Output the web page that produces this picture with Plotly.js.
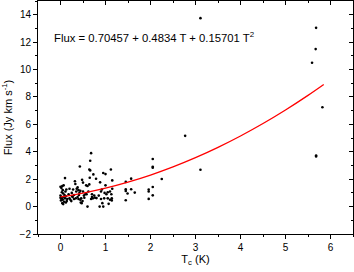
<!DOCTYPE html>
<html>
<head>
<meta charset="utf-8">
<script src="https://cdn.plot.ly/plotly-3.0.1.min.js"></script>
<style>html,body{margin:0;padding:0;background:#fff}#chart{width:354px;height:272px}</style>
</head>
<body>
<div id="chart"></div>
<script>
// Observed points: T_c (K) and Flux (Jy km s^-1)
const tValues = [
  0.00,0.02,0.04,0.07,0.10,0.00,0.02,0.03,0.05,0.01,0.04,0.06,0.08,0.10,0.12,0.09,0.06,0.11,0.13,0.03,0.15,0.14,0.00,0.07,0.05,0.12,
  0.18,0.20,0.22,0.25,0.27,0.30,0.32,0.33,0.28,0.24,0.30,0.35,0.20,0.34,0.26,
  0.38,0.40,0.42,0.43,0.44,0.45,0.47,0.48,0.50,0.52,0.40,0.46,0.38,0.50,0.53,0.41,0.49,0.55,0.36,0.44,
  0.57,0.60,0.60,0.64,0.64,0.66,0.66,0.68,0.65,0.62,0.70,0.72,0.75,0.73,0.79,0.77,0.70,0.68,0.80,0.58,
  0.85,0.87,0.88,0.90,0.92,0.93,0.95,0.95,1.00,0.97,1.00,1.02,1.05,1.07,1.10,1.12,1.13,1.14,1.15,1.15,1.14,0.90,1.05,0.98,1.10,
  1.45,1.45,1.45,1.45,1.49,1.57,1.57,1.65,1.96,1.96,1.96,2.05,2.05,2.05,2.05,2.05,2.25,2.77,3.11,3.11,5.59,5.67,5.68,5.68,5.68,5.82
];
const fluxValues = [
  1.45,1.35,1.50,1.55,2.08,0.80,0.70,0.60,0.50,0.45,0.25,0.18,0.35,0.60,0.75,0.85,0.95,1.10,1.25,1.05,0.55,0.40,0.65,0.72,1.20,0.30,
  0.90,0.60,0.50,1.00,0.70,0.55,1.85,1.65,1.25,0.40,0.85,1.10,1.30,0.60,0.75,
  0.70,1.20,1.00,2.93,0.50,0.30,0.25,1.95,1.75,0.80,0.55,0.60,1.40,1.10,0.65,0.85,0.40,0.90,1.30,1.15,
  1.55,1.50,0.00,1.62,2.71,2.64,3.34,3.90,2.10,1.10,0.70,0.60,0.80,2.35,2.03,0.65,0.90,0.55,0.62,0.90,
  0.80,0.00,1.77,1.10,1.25,0.25,0.00,2.45,2.37,0.60,1.55,0.90,0.60,0.20,1.10,2.71,0.90,0.60,1.91,1.30,0.45,0.55,1.05,1.00,0.50,
  1.80,1.26,1.14,0.46,0.95,2.04,1.26,1.02,1.24,1.10,0.56,3.47,2.90,2.84,1.43,0.82,2.01,5.16,13.75,2.69,10.50,11.49,13.04,3.73,3.66,7.25
];
// Fitted curve, sampled
const fitT = [0.0,0.5,1.0,1.5,2.0,2.5,3.0,3.5,4.0,4.5,5.0,5.5,5.85];
const fitFlux = [0.705,0.986,1.345,1.783,2.299,2.894,3.568,4.320,5.150,6.059,7.047,8.113,8.906];
const xTickVals = [0,1,2,3,4,5,6];
const yTickVals = [-2,0,2,4,6,8,10,12,14];
const fitLabel = 'Flux = 0.70457 + 0.4834 T + 0.15701 T<sup>2</sup>';

const font = 'Liberation Sans, Arial, sans-serif';
const traces = [
  {x: tValues, y: fluxValues, type: 'scatter', mode: 'markers',
   marker: {color: '#000', size: 2.6}, hoverinfo: 'none'},
  {x: fitT, y: fitFlux, type: 'scatter', mode: 'lines',
   line: {color: '#ff0000', width: 1.3, shape: 'spline'}, hoverinfo: 'none'}
];
const axCommon = {showgrid: false, zeroline: false, showline: true, linecolor: '#000', linewidth: 1,
  ticks: 'outside', ticklen: 4, tickcolor: '#000', tickwidth: 1,
  tickfont: {family: font, size: 10, color: '#000'}};
const layout = {
  width: 354, height: 272,
  margin: {l: 38, r: 1, t: 1, b: 38},
  paper_bgcolor: '#fff', plot_bgcolor: '#fff',
  showlegend: false,
  xaxis: Object.assign({}, axCommon, {
    range: [-0.5, 6.5], tickvals: xTickVals, mirror: true,
    minor: {dtick: 0.5, ticks: 'outside', ticklen: 2, tickcolor: '#000'},
    title: {text: 'T<sub>c</sub> (K)', font: {family: font, size: 11, color: '#000'}, standoff: 2}
  }),
  yaxis: Object.assign({}, axCommon, {
    range: [-2, 15], tickvals: yTickVals, mirror: true,
    minor: {dtick: 1, ticks: 'outside', ticklen: 2, tickcolor: '#000'},
    title: {text: 'Flux (Jy km s<sup>-1</sup>)', font: {family: font, size: 11, color: '#000'}, standoff: 6}
  }),
  xaxis2: {overlaying: 'x', side: 'top', matches: 'x', range: [-0.5, 6.5], tickvals: xTickVals,
    showticklabels: false, ticks: 'inside', ticklen: 4, tickcolor: '#000', showgrid: false, zeroline: false,
    minor: {dtick: 0.5, ticks: 'inside', ticklen: 2, tickcolor: '#000'}},
  yaxis2: {overlaying: 'y', side: 'right', range: [-2, 15], tickvals: yTickVals,
    showticklabels: false, ticks: 'inside', ticklen: 4, tickcolor: '#000', showgrid: false, zeroline: false,
    minor: {dtick: 1, ticks: 'inside', ticklen: 2, tickcolor: '#000'}},
  annotations: [{x: -0.2, y: 12.4, xref: 'x', yref: 'y', xanchor: 'left', yanchor: 'middle',
    text: fitLabel, showarrow: false, font: {family: font, size: 11.3, color: '#000'}}]
};
// invisible trace to activate the mirrored axes
traces.push({x: [0], y: [0], xaxis: 'x2', yaxis: 'y2', mode: 'markers', marker: {opacity: 0}, hoverinfo: 'none'});
Plotly.newPlot('chart', traces, layout, {staticPlot: true, displayModeBar: false});
</script>
</body>
</html>
